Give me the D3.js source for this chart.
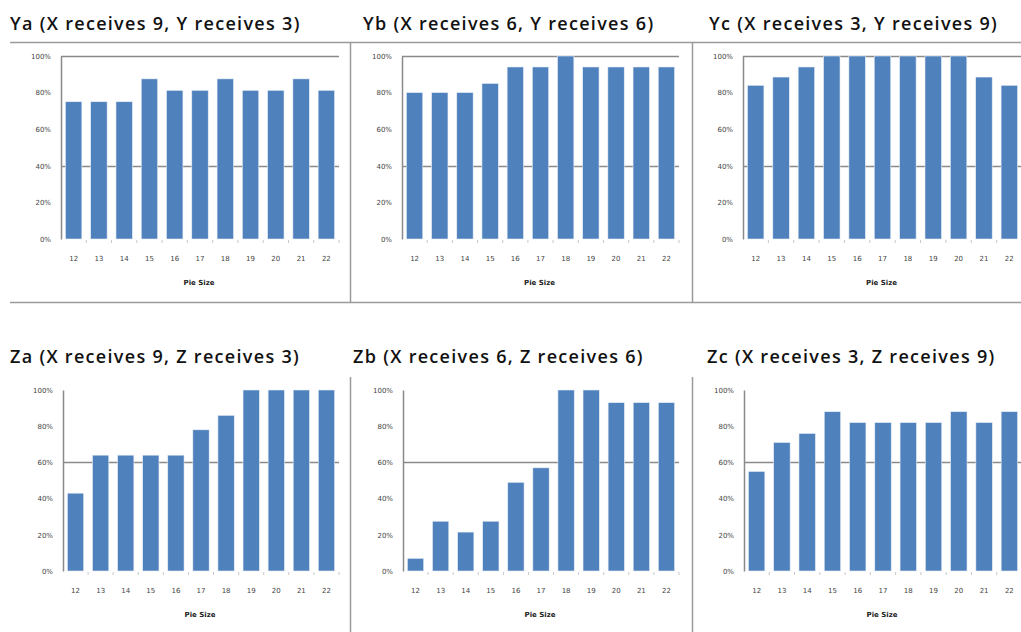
<!DOCTYPE html>
<html>
<head>
<meta charset="utf-8">
<script src="https://cdn.jsdelivr.net/npm/d3@7"></script>
<style>
  body { margin: 0; background: #fff; }
  svg { display: block; }
</style>
</head>
<body>
<div id="chart"></div>
<script>
var svgWidth = 1021;
var svgHeight = 632;

// categories and tick labels
var pieSizes = ["12", "13", "14", "15", "16", "17", "18", "19", "20", "21", "22"];
var yTicks = [0, 0.2, 0.4, 0.6, 0.8, 1.0];
var xTitle = "Pie Size";

// chart titles
var titles = [
  "Ya (X receives 9, Y receives 3)",
  "Yb (X receives 6, Y receives 6)",
  "Yc (X receives 3, Y receives 9)",
  "Za (X receives 9, Z receives 3)",
  "Zb (X receives 6, Z receives 6)",
  "Zc (X receives 3, Z receives 9)"
];

// series values (share, 0..1)
var ya = [0.75, 0.75, 0.75, 0.875, 0.8125, 0.8125, 0.875, 0.8125, 0.8125, 0.875, 0.8125];
var yb = [0.80, 0.80, 0.80, 0.85, 0.94, 0.94, 1.00, 0.94, 0.94, 0.94, 0.94];
var yc = [0.84, 0.885, 0.94, 1.00, 1.00, 1.00, 1.00, 1.00, 1.00, 0.885, 0.84];
var za = [0.43, 0.64, 0.64, 0.64, 0.64, 0.78, 0.86, 1.00, 1.00, 1.00, 1.00];
var zb = [0.07, 0.275, 0.215, 0.275, 0.49, 0.57, 1.00, 1.00, 0.93, 0.93, 0.93];
var zc = [0.55, 0.71, 0.76, 0.88, 0.82, 0.82, 0.82, 0.82, 0.88, 0.82, 0.88];

var seriesList = [ya, yb, yc, za, zb, zc];

// layout of the six panels
var panels = [
  { left: 61, right: 339, top: 56, bottom: 239, titleX: 10, titleY: 30, grid: [1.0, 0.4] },
  { left: 402, right: 679, top: 56, bottom: 239, titleX: 363, titleY: 30, grid: [1.0, 0.4] },
  { left: 743, right: 1022, top: 56, bottom: 239, titleX: 709, titleY: 30, grid: [1.0, 0.4] },
  { left: 63, right: 339, top: 390, bottom: 571, titleX: 10, titleY: 363, grid: [0.6] },
  { left: 403, right: 679, top: 390, bottom: 571, titleX: 353, titleY: 363, grid: [0.6] },
  { left: 744, right: 1022, top: 390, bottom: 571, titleX: 707, titleY: 363, grid: [0.6] }
];

var svg = d3.select("#chart")
  .append("svg")
  .attr("width", svgWidth)
  .attr("height", svgHeight);

// frame lines between the panels
var frameColor = "#9a9a9a";
svg.append("line").attr("x1", 10).attr("x2", svgWidth).attr("y1", 42.5).attr("y2", 42.5)
  .attr("stroke", frameColor).attr("stroke-width", 1.5);
svg.append("line").attr("x1", 10).attr("x2", svgWidth).attr("y1", 302.5).attr("y2", 302.5)
  .attr("stroke", frameColor).attr("stroke-width", 1.5);
[350.5, 692.5].forEach(function (x) {
  svg.append("line").attr("x1", x).attr("x2", x).attr("y1", 42.5).attr("y2", 302.5)
    .attr("stroke", frameColor).attr("stroke-width", 1.5);
  svg.append("line").attr("x1", x).attr("x2", x).attr("y1", 377).attr("y2", svgHeight)
    .attr("stroke", frameColor).attr("stroke-width", 1.5);
});

panels.forEach(function (p, i) {
  var data = seriesList[i];

  var xScale = d3.scaleBand()
    .domain(pieSizes)
    .range([p.left, p.right])
    .paddingInner(0.35)
    .paddingOuter(0.175);

  var yScale = d3.scaleLinear()
    .domain([0, 1])
    .range([p.bottom, p.top]);

  var g = svg.append("g");

  // title
  g.append("text")
    .attr("x", p.titleX)
    .attr("y", p.titleY)
    .attr("font-family", "'Open Sans', sans-serif")
    .attr("font-weight", 600)
    .attr("font-size", 18)
    .attr("letter-spacing", 1.3)
    .attr("fill", "#111")
    .text(titles[i]);

  // gridlines that show in the picture
  g.selectAll(".grid")
    .data(p.grid)
    .enter()
    .append("line")
    .attr("x1", p.left)
    .attr("x2", p.right)
    .attr("y1", d => Math.round(yScale(d)) + 0.5)
    .attr("y2", d => Math.round(yScale(d)) + 0.5)
    .attr("stroke", "#8a8a8a")
    .attr("stroke-width", 1.3);

  // bars
  g.selectAll("rect")
    .data(data)
    .enter()
    .append("rect")
    .attr("x", (d, j) => xScale(pieSizes[j]))
    .attr("y", d => yScale(d))
    .attr("width", xScale.bandwidth())
    .attr("height", d => yScale(0) - yScale(d))
    .attr("fill", "#4f81bd")
    .attr("stroke", "#e8eef7")
    .attr("stroke-width", 0.6);

  // y axis
  var leftAxis = d3.axisLeft(yScale)
    .tickValues(yTicks)
    .tickFormat(d3.format(".0%"))
    .tickSize(0)
    .tickPadding(10);

  var yAxis = g.append("g")
    .attr("transform", `translate(${p.left}, 0)`)
    .call(leftAxis);
  yAxis.select(".domain").attr("stroke", "#8a8a8a").attr("stroke-width", 1.5);
  yAxis.selectAll("text")
    .attr("font-family", "'DejaVu Sans', sans-serif")
    .attr("font-size", 7)
    .attr("fill", "#444");

  // x axis
  var bottomAxis = d3.axisBottom(xScale)
    .tickSize(0)
    .tickPadding(15);

  var xAxis = g.append("g")
    .attr("transform", `translate(0, ${p.bottom + 2})`)
    .call(bottomAxis);
  xAxis.select(".domain").remove();
  xAxis.selectAll("text")
    .attr("font-family", "'DejaVu Sans', sans-serif")
    .attr("font-size", 7)
    .attr("fill", "#444");

  // small tick marks between categories
  var step = xScale.step();
  g.selectAll(".xtick")
    .data(d3.range(1, pieSizes.length + 1))
    .enter()
    .append("line")
    .attr("x1", k => xScale(pieSizes[0]) - xScale.paddingOuter() * step + k * step)
    .attr("x2", k => xScale(pieSizes[0]) - xScale.paddingOuter() * step + k * step)
    .attr("y1", p.bottom + 1)
    .attr("y2", p.bottom + 4)
    .attr("stroke", "#c8c8c8")
    .attr("stroke-width", 1);

  // axis title
  g.append("text")
    .attr("x", (p.left + p.right) / 2 - 1)
    .attr("y", p.bottom + 46)
    .attr("text-anchor", "middle")
    .attr("font-family", "'DejaVu Sans', sans-serif")
    .attr("font-weight", "bold")
    .attr("font-size", 7)
    .attr("fill", "#222")
    .text(xTitle);
});
</script>
</body>
</html>
